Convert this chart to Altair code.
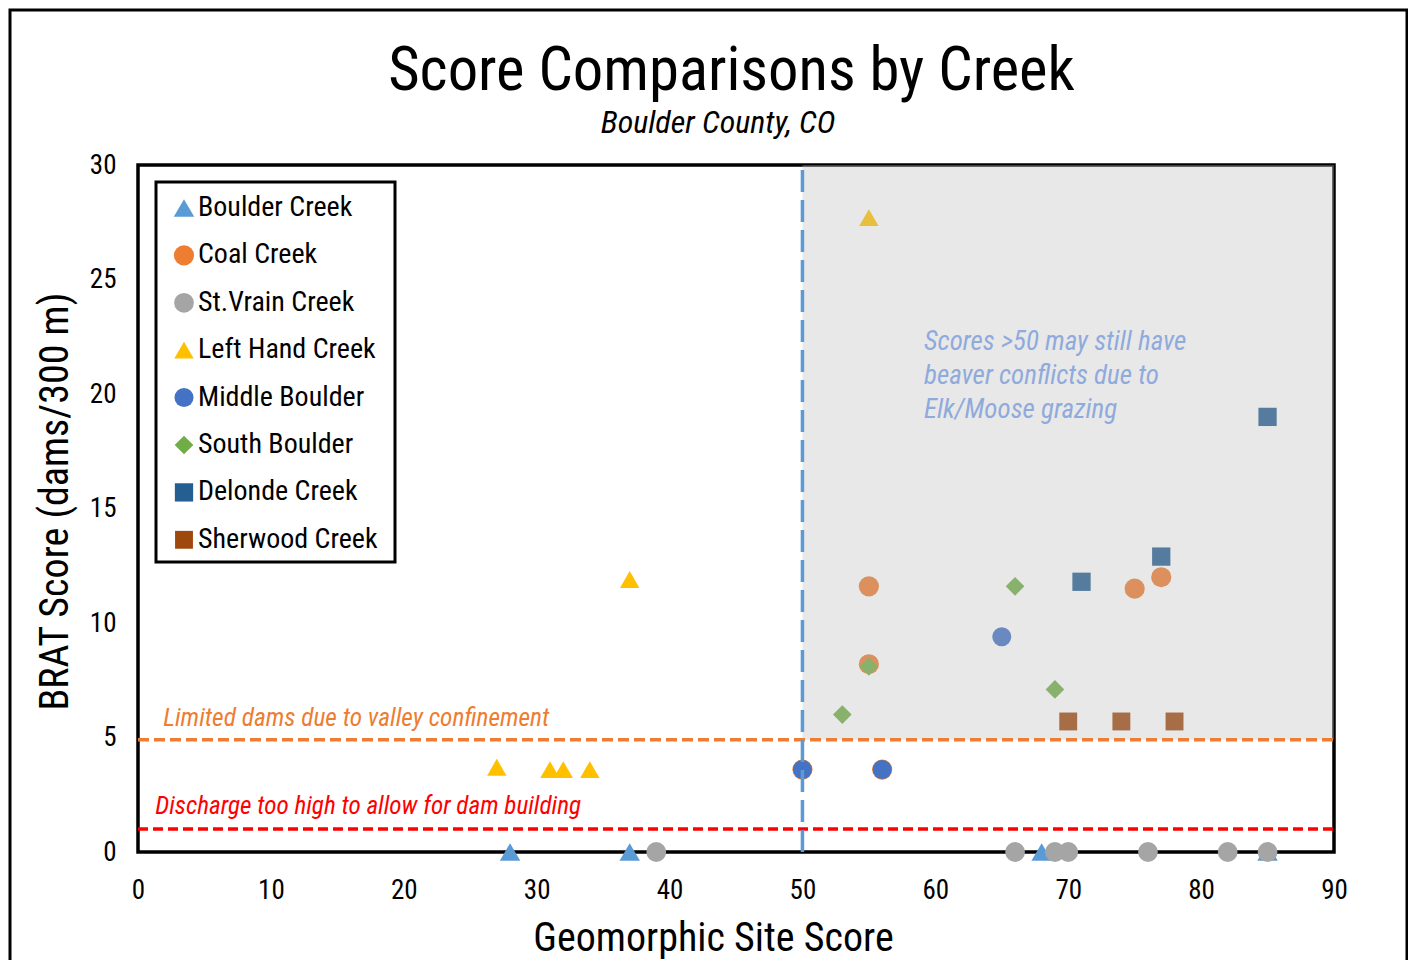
import altair as alt
import pandas as pd

FONT = "Liberation Sans Narrow, Arial Narrow, Roboto Condensed, Liberation Sans, sans-serif"

creeks = ["Boulder Creek", "Coal Creek", "St.Vrain Creek", "Left Hand Creek",
          "Middle Boulder", "South Boulder", "Delonde Creek", "Sherwood Creek"]
colors = ["#5B9BD5", "#ED7D31", "#A5A5A5", "#FFC000",
          "#4472C4", "#70AD47", "#255E91", "#9E480E"]
shapes = ["triangle-up", "circle", "circle", "triangle-up",
          "circle", "diamond", "square", "square"]
sizes = [420, 320, 320, 420, 180, 420, 380, 380]

boulder_x = [28, 37, 68, 85]
boulder_y = [0, 0, 0, 0]
coal_x = [55, 55, 75, 77, 50, 56]
coal_y = [11.6, 8.2, 11.5, 12.0, 3.6, 3.6]
stvrain_x = [39, 66, 69, 70, 76, 82, 85]
stvrain_y = [0, 0, 0, 0, 0, 0, 0]
lefthand_x = [55, 37, 27, 31, 32, 34]
lefthand_y = [27.7, 11.9, 3.7, 3.6, 3.6, 3.6]
middle_x = [50, 56, 65]
middle_y = [3.6, 3.6, 9.4]
south_x = [53, 55, 66, 69]
south_y = [6.0, 8.1, 11.6, 7.1]
delonde_x = [71, 77, 85]
delonde_y = [11.8, 12.9, 19.0]
sherwood_x = [70, 74, 78]
sherwood_y = [5.7, 5.7, 5.7]

series_x = [boulder_x, coal_x, stvrain_x, lefthand_x, middle_x, south_x, delonde_x, sherwood_x]
series_y = [boulder_y, coal_y, stvrain_y, lefthand_y, middle_y, south_y, delonde_y, sherwood_y]

# reference lines / annotations (data units)
confinement_y = 4.9
discharge_y = 1.0
split_x = 50
x_max = 90
y_max = 30

title_text = "Score Comparisons by Creek"
subtitle_text = "Boulder County, CO"
x_title = "Geomorphic Site Score"
y_title = "BRAT Score (dams/300 m)"
note_confinement = "Limited dams due to valley confinement"
note_discharge = "Discharge too high to allow for dam building"
note_scores = ["Scores >50 may still have", "beaver conflicts due to", "Elk/Moose grazing"]

rows = []
k = 0
for i, name in enumerate(creeks):
    for xv, yv in zip(series_x[i], series_y[i]):
        rows.append({"creek": name, "x": xv, "y": yv, "order": k})
        k += 1
df = pd.DataFrame(rows)

xscale = alt.Scale(domain=[0, x_max], nice=False, zero=False)
yscale = alt.Scale(domain=[0, y_max], nice=False, zero=False)

xaxis = alt.Axis(values=list(range(0, 91, 10)), title=x_title, labelFlush=False,
                 titleX=575, titleAlign="center")
yaxis = alt.Axis(values=list(range(0, 31, 5)), title=y_title, labelFlush=False,
                 titleY=336, titleAlign="center")

one = pd.DataFrame({"a": [0]})

outer = alt.Chart(one).mark_rect(fillOpacity=0, stroke="black", strokeWidth=3).encode(
    x=alt.value(-128), x2=alt.value(1269), y=alt.value(-155), y2=alt.value(900))

legend_box = alt.Chart(one).mark_rect(fill="white", stroke="black", strokeWidth=3).encode(
    x=alt.value(18), x2=alt.value(257), y=alt.value(17), y2=alt.value(397))

title_mark = alt.Chart(pd.DataFrame({"t": [title_text]})).mark_text(
    font=FONT, fontSize=60.7, color="black", align="center", baseline="middle").encode(
    x=alt.value(593.5), y=alt.value(-93), text="t:N")
subtitle_mark = alt.Chart(pd.DataFrame({"t": [subtitle_text]})).mark_text(
    font=FONT, fontSize=32, fontStyle="italic", color="black", align="center",
    baseline="middle").encode(x=alt.value(580), y=alt.value(-42), text="t:N")

leg = alt.Legend(title=None, orient="none", legendX=32, legendY=29, labelLimit=400)
points = alt.Chart(df).mark_point(filled=True, opacity=1).encode(
    x=alt.X("x:Q", scale=xscale, axis=xaxis),
    y=alt.Y("y:Q", scale=yscale, axis=yaxis),
    color=alt.Color("creek:N", sort=creeks,
                    scale=alt.Scale(domain=creeks, range=colors), legend=leg),
    shape=alt.Shape("creek:N", sort=creeks,
                    scale=alt.Scale(domain=creeks, range=shapes), legend=leg),
    size=alt.Size("creek:N", sort=creeks,
                  scale=alt.Scale(domain=creeks, range=sizes), legend=None),
    order=alt.Order("order:Q"),
)

shade_df = pd.DataFrame({"x": [split_x], "x2": [x_max], "y": [confinement_y], "y2": [y_max]})
shade = alt.Chart(shade_df).mark_rect(fill="#B8B8B8", opacity=0.33).encode(
    x=alt.X("x:Q", scale=xscale), x2="x2:Q",
    y=alt.Y("y:Q", scale=yscale), y2="y2:Q")

hl_df = pd.DataFrame({"x": [0], "x2": [x_max], "y": [confinement_y]})
orange_line = alt.Chart(hl_df).mark_rule(color="#ED7D31", strokeWidth=3.5, strokeDash=[11, 5]).encode(
    x=alt.X("x:Q", scale=xscale), x2="x2:Q", y=alt.Y("y:Q", scale=yscale))

red_df = pd.DataFrame({"x": [0], "x2": [x_max], "y": [discharge_y]})
red_line = alt.Chart(red_df).mark_rule(color="#FF0000", strokeWidth=3.5, strokeDash=[10, 5]).encode(
    x=alt.X("x:Q", scale=xscale), x2="x2:Q", y=alt.Y("y:Q", scale=yscale))

vl_df = pd.DataFrame({"x": [split_x], "y": [0], "y2": [y_max]})
blue_line = alt.Chart(vl_df).mark_rule(color="#5B9BD5", strokeWidth=3.5, strokeDash=[22, 8]).encode(
    x=alt.X("x:Q", scale=xscale), y=alt.Y("y:Q", scale=yscale), y2="y2:Q")

t1 = pd.DataFrame({"x": [1.9], "y": [5.85], "t": [note_confinement]})
text1 = alt.Chart(t1).mark_text(align="left", baseline="middle", font=FONT, fontSize=25.4,
                                fontStyle="italic", color="#ED7D31").encode(
    x=alt.X("x:Q", scale=xscale), y=alt.Y("y:Q", scale=yscale), text="t:N")

t2 = pd.DataFrame({"x": [1.3], "y": [2.0], "t": [note_discharge]})
text2 = alt.Chart(t2).mark_text(align="left", baseline="middle", font=FONT, fontSize=25.2,
                                fontStyle="italic", color="#FF0000").encode(
    x=alt.X("x:Q", scale=xscale), y=alt.Y("y:Q", scale=yscale), text="t:N")

t3 = pd.DataFrame({"x": [59.15, 59.15, 59.15], "y": [22.27, 20.79, 19.3], "t": note_scores})
text3 = alt.Chart(t3).mark_text(align="left", baseline="middle", font=FONT, fontSize=27,
                                fontStyle="italic", color="#8FAADC").encode(
    x=alt.X("x:Q", scale=xscale), y=alt.Y("y:Q", scale=yscale), text="t:N")

chart = alt.layer(outer, legend_box, title_mark, subtitle_mark, points, shade,
                  orange_line, red_line, blue_line, text1, text2, text3).properties(
    width=1196, height=687,
    autosize=alt.AutoSizeParams(type="none"),
    padding={"left": 130, "top": 157, "right": 74, "bottom": 108},
).configure_view(stroke="black", strokeWidth=3.5).configure_axis(
    domain=False, ticks=False, grid=False, labelFont=FONT, labelFontSize=27, labelColor="black",
    titleFont=FONT, titleFontSize=40, titleFontWeight="normal", titleColor="black",
).configure_axisX(labelPadding=25, titlePadding=15).configure_axisY(
    labelPadding=22, titlePadding=14).configure_legend(
    labelFont=FONT, labelFontSize=28, labelColor="black", symbolSize=260,
    rowPadding=19.4, labelOffset=0, padding=0, symbolStrokeWidth=0, symbolOpacity=1,
)

chart.save("out.html", embed_options={"renderer": "svg", "actions": False})
